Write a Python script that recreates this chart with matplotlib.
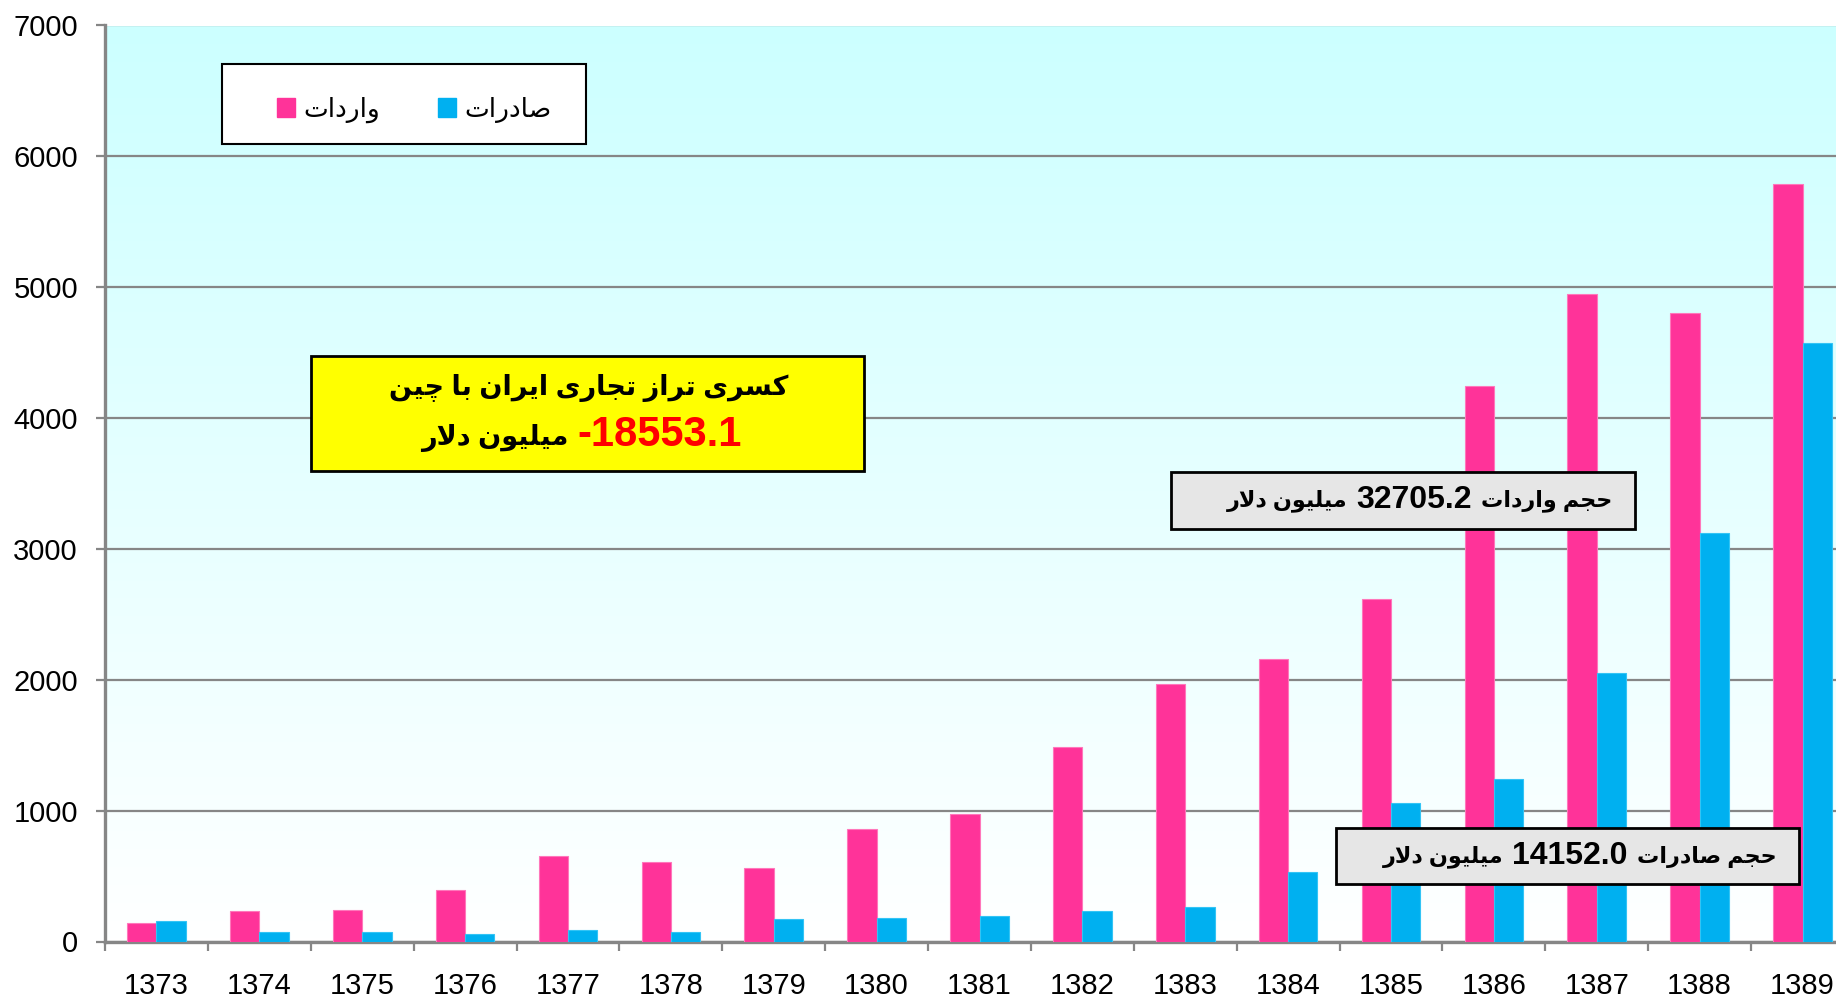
import matplotlib
matplotlib.use("Agg")
import matplotlib.pyplot as plt
import numpy as np
from matplotlib.patches import Rectangle
from matplotlib.colors import LinearSegmentedColormap

years = ["1373", "1374", "1375", "1376", "1377", "1378", "1379", "1380", "1381",
         "1382", "1383", "1384", "1385", "1386", "1387", "1388", "1389"]
imports = [145, 230, 240, 390, 655, 610, 565, 860, 975,
           1485, 1970, 2160, 2615, 4245, 4945, 4800, 5790]
exports = [155, 70, 70, 60, 90, 75, 170, 180, 195,
           230, 265, 530, 1055, 1245, 2050, 3125, 4570]
y_ticks = [0, 1000, 2000, 3000, 4000, 5000, 6000, 7000]

label_imports = "واردات"
label_exports = "صادرات"
title_line1 = "کسری تراز تجاری ایران با چین"
deficit_value = "-18553.1"
unit = "میلیون دلار"
imports_label = "حجم واردات"
imports_total = "32705.2"
exports_label = "حجم صادرات"
exports_total = "14152.0"

PINK = "#FF3399"
BLUE = "#00B0F0"
GRID = "#868686"

# Arabic presentation forms: isolated, final, initial, medial
FORMS = {
    "ا": ("\uFE8D", "\uFE8E", None, None),
    "ب": ("\uFE8F", "\uFE90", "\uFE91", "\uFE92"),
    "ت": ("\uFE95", "\uFE96", "\uFE97", "\uFE98"),
    "ج": ("\uFE9D", "\uFE9E", "\uFE9F", "\uFEA0"),
    "ح": ("\uFEA1", "\uFEA2", "\uFEA3", "\uFEA4"),
    "د": ("\uFEA9", "\uFEAA", None, None),
    "ر": ("\uFEAD", "\uFEAE", None, None),
    "ز": ("\uFEAF", "\uFEB0", None, None),
    "س": ("\uFEB1", "\uFEB2", "\uFEB3", "\uFEB4"),
    "ص": ("\uFEB9", "\uFEBA", "\uFEBB", "\uFEBC"),
    "ل": ("\uFEDD", "\uFEDE", "\uFEDF", "\uFEE0"),
    "م": ("\uFEE1", "\uFEE2", "\uFEE3", "\uFEE4"),
    "ن": ("\uFEE5", "\uFEE6", "\uFEE7", "\uFEE8"),
    "و": ("\uFEED", "\uFEEE", None, None),
    "ی": ("\uFBFC", "\uFBFD", "\uFBFE", "\uFBFF"),
    "ي": ("\uFEF1", "\uFEF2", "\uFEF3", "\uFEF4"),
    "ک": ("\uFB8E", "\uFB8F", "\uFB90", "\uFB91"),
    "چ": ("\uFB7A", "\uFB7B", "\uFB7C", "\uFB7D"),
}


def joins_next(c):
    return c in FORMS and FORMS[c][2] is not None


def shape_word(word):
    out = []
    i = 0
    while i < len(word):
        c = word[i]
        if c not in FORMS:
            out.append(c)
            i += 1
            continue
        link_prev = i > 0 and joins_next(word[i - 1])
        if c == "ل" and i + 1 < len(word) and word[i + 1] == "ا":
            out.append("\uFEFC" if link_prev else "\uFEFB")
            i += 2
            continue
        link_next = joins_next(c) and i + 1 < len(word) and word[i + 1] in FORMS
        iso, fin, ini, med = FORMS[c]
        if link_prev and link_next:
            out.append(med)
        elif link_prev:
            out.append(fin)
        elif link_next:
            out.append(ini)
        else:
            out.append(iso)
        i += 1
    return "".join(reversed(out))


def rtl(text):
    tokens = text.split(" ")
    shaped = [shape_word(t) if any(ch in FORMS for ch in t) else t for t in tokens]
    return " ".join(reversed(shaped))


plt.rcParams["font.family"] = ["Liberation Sans", "DejaVu Sans"]

W, H = 1836, 998
fig = plt.figure(figsize=(W / 100, H / 100), dpi=100)
x_left, x_right = 105, 1854
y_top, y_bot = 25.5, 941.5
ax = fig.add_axes([x_left / W, 1 - y_bot / H, (x_right - x_left) / W, (y_bot - y_top) / H])


def fx(px):
    return px / W


def fy(py):
    return 1 - py / H


x = np.arange(len(years))
bw = 0.285
ax.bar(x - bw / 2, imports, bw, color=PINK, edgecolor="#FF77BB", linewidth=0.8, zorder=3)
ax.bar(x + bw / 2, exports, bw, color=BLUE, edgecolor="#33C4F5", linewidth=0.8, zorder=3)

ax.set_xlim(-0.5, len(years) - 0.5)
ax.set_ylim(0, 7000)

bg = LinearSegmentedColormap.from_list("bg", ["#FFFFFF", "#CCFFFF"])
ax.imshow(np.linspace(1, 0, 256).reshape(-1, 1), cmap=bg, aspect="auto",
          extent=(-0.5, len(years) - 0.5, 0, 7000), zorder=0)

ax.set_yticks(y_ticks)
ax.set_yticklabels([str(v) for v in y_ticks], fontsize=21)
ax.yaxis.grid(True, color=GRID, linewidth=1.6, zorder=1)
ax.tick_params(axis="y", length=6.5, width=1.6, color=GRID, pad=13)

ax.set_xticks(x)
ax.set_xticklabels(years, fontsize=21)
ax.set_xticks(np.arange(-0.5, len(years)), minor=True)
ax.tick_params(axis="x", which="major", length=0, pad=22)
ax.tick_params(axis="x", which="minor", length=6.5, width=1.6, color=GRID)

for s in ["top", "right"]:
    ax.spines[s].set_visible(False)
for s in ["left", "bottom"]:
    ax.spines[s].set_color(GRID)
    ax.spines[s].set_linewidth(2.4)

# legend frame + legend
fig.add_artist(Rectangle((fx(222), fy(144)), fx(586) - fx(222), fy(64) - fy(144),
                         transform=fig.transFigure, facecolor="white", edgecolor="black",
                         linewidth=1.5, zorder=4))
handles = [Rectangle((0, 0), 1, 1, color=PINK), Rectangle((0, 0), 1, 1, color=BLUE)]
fig.legend(handles, [rtl(label_imports), rtl(label_exports)], ncol=2, frameon=False,
           loc="center", bbox_to_anchor=(fx(414), fy(110)),
           handlelength=0.7, handleheight=0.7, handletextpad=0.3, columnspacing=2.2,
           prop={"family": ["DejaVu Sans"], "size": 19})

# yellow deficit box
fig.add_artist(Rectangle((fx(311), fy(471)), fx(864) - fx(311), fy(356) - fy(471),
                         transform=fig.transFigure, facecolor="#FFFF00", edgecolor="black",
                         linewidth=2, zorder=4))
fig.text(fx(589), fy(388), rtl(title_line1), ha="center", va="center", fontsize=19.5,
         fontweight="bold", zorder=5)
fig.text(fx(568), fy(438), rtl(unit), ha="right", va="center", fontsize=19.5,
         fontweight="bold", zorder=5)
fig.text(fx(577), fy(435), deficit_value, ha="left", va="center", fontsize=30,
         fontweight="bold", color="red", zorder=5)

# grey total boxes
boxes = [
    ((1171, 472, 1635, 529), imports_label, imports_total, (1612, 1472, 1347), 500),
    ((1336, 828, 1799, 884), exports_label, exports_total, (1777, 1628, 1504), 856),
]
for (x0, y0, x1, y1), lab, val, (xa, xb, xc), yc in boxes:
    fig.add_artist(Rectangle((fx(x0), fy(y1)), fx(x1) - fx(x0), fy(y0) - fy(y1),
                             transform=fig.transFigure, facecolor="#E6E6E6",
                             edgecolor="black", linewidth=2, zorder=4))
    fig.text(fx(xa), fy(yc + 1), rtl(lab), ha="right", va="center", fontsize=16,
             fontweight="bold", zorder=5)
    fig.text(fx(xb), fy(yc), val, ha="right", va="center", fontsize=23,
             fontweight="bold", zorder=5)
    fig.text(fx(xc), fy(yc + 1), rtl(unit), ha="right", va="center", fontsize=16,
             fontweight="bold", zorder=5)

fig.savefig("out.png", dpi=100, facecolor="white")
